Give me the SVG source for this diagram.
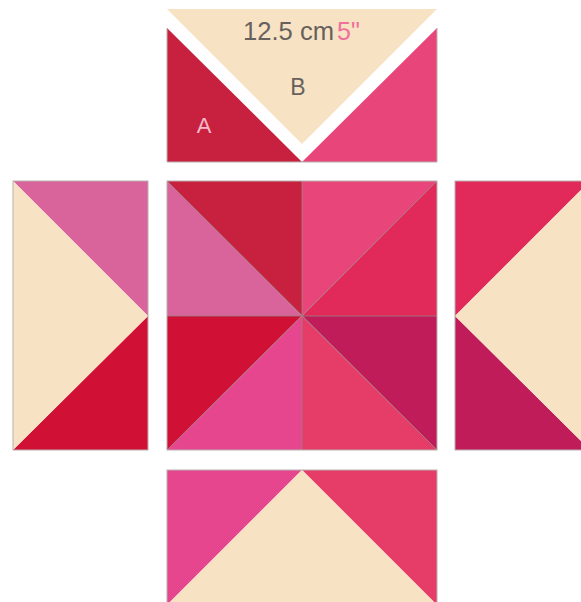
<svg xmlns="http://www.w3.org/2000/svg" width="581" height="602" viewBox="0 0 581 602">
<style>
.beige{fill:#f8e2c4}
.edge{stroke:#9a8080;stroke-width:0.8;stroke-linejoin:round}
.frame{fill:none;stroke:#b8b0b0;stroke-width:1}
.lbl{font-family:"Liberation Sans",Arial,sans-serif;fill:#66615c}
</style>
<rect width="581" height="602" fill="#ffffff"/>
<g id="top-unit">
<polygon points="167,28 167,162 302,162" fill="#c8203f"/>
<polygon points="437,28 437,162 302,162" fill="#e8467a"/>
<polyline points="167,28 167,162 437,162 437,28" class="frame"/>
<polygon points="167,9 437,9 302,144" class="beige"/>
<text x="204" y="133" font-family="Liberation Sans,Arial,sans-serif" font-size="22" fill="#f6b8c8" text-anchor="middle">A</text>
<text x="298" y="95" class="lbl" font-size="23" text-anchor="middle">B</text>
<text x="243" y="40" class="lbl" font-size="25" textLength="91" lengthAdjust="spacingAndGlyphs">12.5 cm</text>
<text x="337" y="40" font-family="Liberation Sans,Arial,sans-serif" font-size="25" fill="#f0709a">5"</text>
</g>
<g id="left-unit">
<polygon points="13,181 148,181 148,316" fill="#d9639b"/>
<polygon points="148,316 148,450 13,450" fill="#d01035"/>
<polygon points="13,181 148,316 13,450" class="beige"/>
<rect x="13" y="181" width="135" height="269" class="frame"/>
</g>
<g id="center-unit">
<polygon points="167,181 302,181 302,316" fill="#c8203f"/>
<polygon points="167,181 167,316 302,316" fill="#d9639b"/>
<polygon points="302,181 437,181 302,316" fill="#e8467a"/>
<polygon points="437,181 437,316 302,316" fill="#e22a5a"/>
<polygon points="167,316 302,316 167,450" fill="#d01035"/>
<polygon points="302,316 302,450 167,450" fill="#e5468e"/>
<polygon points="302,316 437,316 437,450" fill="#c01c5a"/>
<polygon points="302,316 437,450 302,450" fill="#e63c68"/>
<g class="edge">
<line x1="302" y1="181" x2="302" y2="450"/>
<line x1="167" y1="316" x2="437" y2="316"/>
<line x1="167" y1="181" x2="437" y2="450"/>
<line x1="437" y1="181" x2="167" y2="450"/>
</g>
<rect x="167" y="181" width="270" height="269" class="frame"/>
</g>
<g id="right-unit">
<polygon points="455,181 590,181 455,316" fill="#e22a5a"/>
<polygon points="455,316 590,450 455,450" fill="#c01c5a"/>
<polygon points="455,316 590,181 590,450" class="beige"/>
<rect x="455" y="181" width="135" height="269" class="frame"/>
</g>
<g id="bottom-unit">
<polygon points="167,470 302,470 167,605" fill="#e5468e"/>
<polygon points="302,470 437,470 437,605" fill="#e63c68"/>
<polygon points="302,470 437,605 167,605" class="beige"/>
<rect x="167" y="470" width="270" height="140" class="frame"/>
</g>
<g id="connectors"></g>
</svg>
